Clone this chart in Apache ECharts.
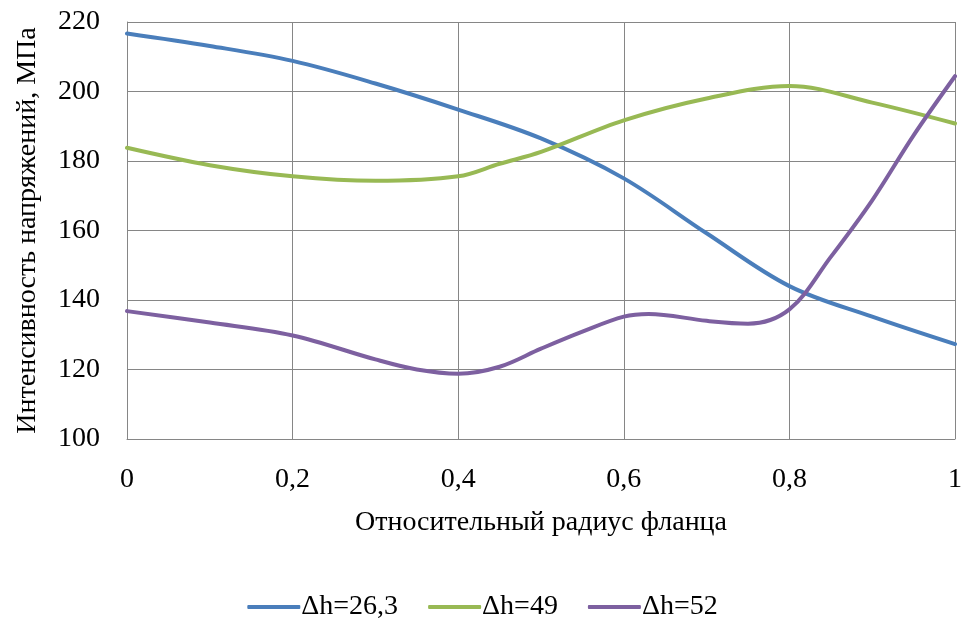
<!DOCTYPE html>
<html><head><meta charset="utf-8">
<script src="https://cdn.jsdelivr.net/npm/echarts@6/dist/echarts.min.js"></script>
<style>html,body{margin:0;padding:0;background:#fff}#c{width:965px;height:619px}</style>
</head><body><div id="c"></div>
<script>
const seriesNames = ['Δh=26,3', 'Δh=49', 'Δh=52'];
const x1 = [0, 0.1, 0.2, 0.3, 0.4, 0.5, 0.6, 0.7, 0.8, 0.9, 1];
const y1 = [216.7, 213.1, 208.8, 202.3, 194.8, 186.5, 175, 159.2, 144, 135.2, 127.3];
const x2 = [0, 0.1, 0.2, 0.3, 0.4, 0.45, 0.5, 0.6, 0.7, 0.8, 0.9, 1];
const y2 = [183.8, 178.8, 175.6, 174.3, 175.6, 179.2, 182.6, 191.7, 198, 201.6, 196.8, 190.8];
const x3 = [0, 0.1, 0.2, 0.3, 0.35, 0.4, 0.45, 0.5, 0.55, 0.6, 0.63, 0.7, 0.75, 0.8, 0.85, 0.9, 0.95, 1];
const y3 = [136.8, 133.5, 129.8, 122.9, 120, 118.8, 120.8, 126, 130.9, 135.2, 136, 134, 133.2, 137.3, 152.4, 168.7, 187.4, 204.4];
const colors = ['#4A7EBB', '#98B954', '#7D60A0'];

const font = '"Liberation Serif", "Times New Roman", serif';
const pair = (xs, ys) => xs.map((x, i) => [x, ys[i]]);
const chart = echarts.init(document.getElementById('c'));
chart.setOption({
  animation: false,
  textStyle: { fontFamily: font },
  grid: { left: 127, right: 10, top: 22, bottom: 180, containLabel: false, outerBoundsMode: 'none' },
  legend: {
    top: 588, left: 'center', itemWidth: 53, itemHeight: 4, itemGap: 30,
    icon: 'roundRect',
    formatter: n => '{t|' + n + '}',
    textStyle: { fontFamily: font, fontSize: 28, color: '#000',
      rich: { t: { fontFamily: font, fontSize: 28, color: '#000', padding: [0, 0, 0, -4] } } },
    data: seriesNames
  },
  xAxis: {
    type: 'value', min: 0, max: 1, interval: 0.2,
    name: 'Относительный радиус фланца', nameLocation: 'middle', nameGap: 70,
    nameTextStyle: { fontFamily: font, fontSize: 28, color: '#000' },
    axisLine: { show: true, lineStyle: { color: '#868686', width: 1 } },
    axisTick: { show: false },
    axisLabel: { fontFamily: font, fontSize: 28, color: '#000', margin: 27,
      formatter: v => String(Math.round(v * 10) / 10).replace('.', ',') },
    splitLine: { show: true, lineStyle: { color: '#868686', width: 1 } }
  },
  yAxis: {
    type: 'value', min: 100, max: 220, interval: 20,
    name: 'Интенсивность напряжений, МПа', nameLocation: 'middle', nameGap: 85,
    nameTextStyle: { fontFamily: font, fontSize: 28, color: '#000' },
    axisLine: { show: true, lineStyle: { color: '#868686', width: 1 } },
    axisTick: { show: false },
    axisLabel: { fontFamily: font, fontSize: 28, color: '#000', margin: 27 },
    splitLine: { show: true, lineStyle: { color: '#868686', width: 1 } }
  },
  series: [[x1, y1], [x2, y2], [x3, y3]].map((d, i) => ({
    name: seriesNames[i], type: 'line', data: pair(d[0], d[1]), smooth: 0.35,
    showSymbol: false, symbol: 'none',
    lineStyle: { color: colors[i], width: 4, cap: 'round' },
    itemStyle: { color: colors[i] }
  }))
});
</script></body></html>
